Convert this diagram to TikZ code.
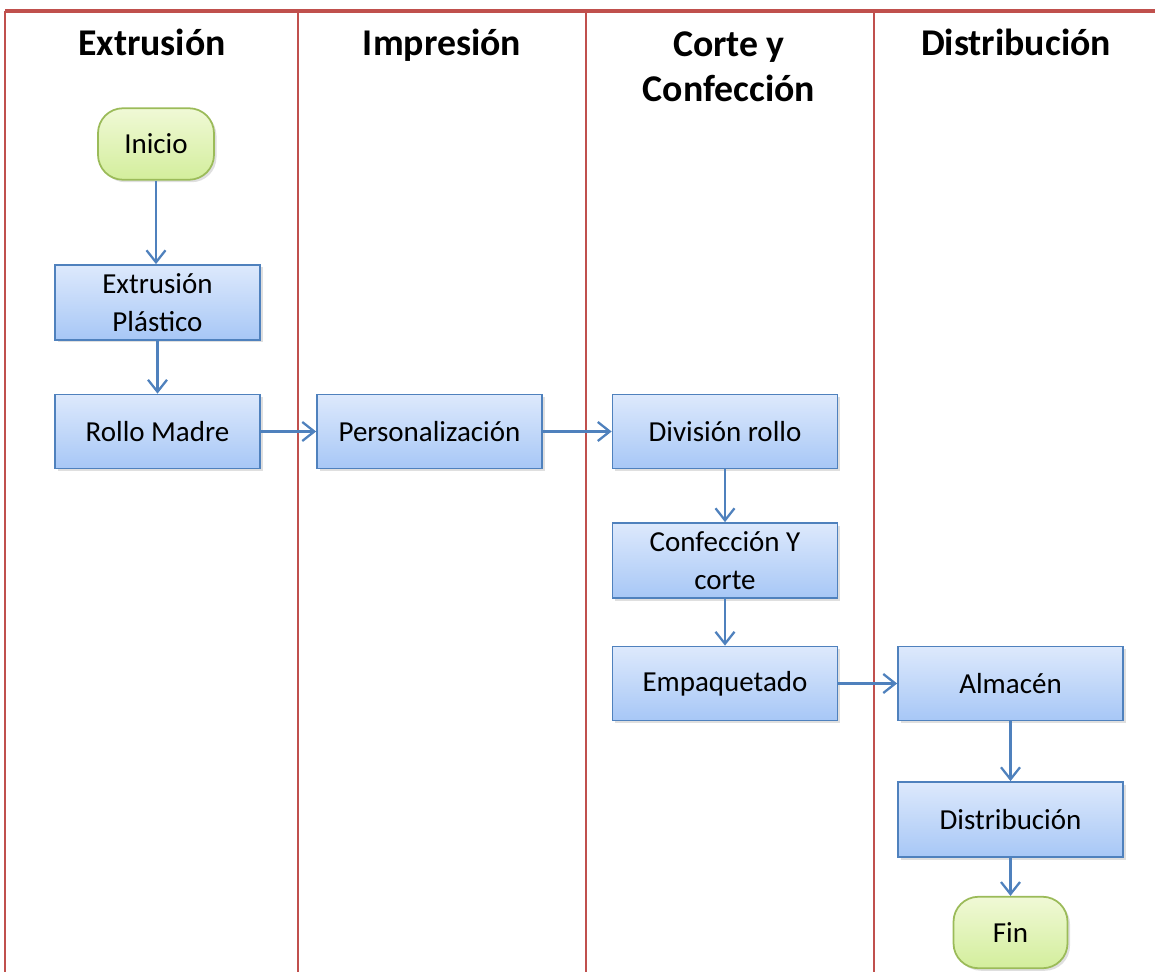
\documentclass[tikz,border=0pt]{standalone}
\usepackage{fontspec}
\setmainfont{Carlito}
\usetikzlibrary{arrows.meta,
                positioning,
                shadows
            }

\definecolor{laneRed}{HTML}{C0504D}
\definecolor{boxLine}{HTML}{4F81BD}
\definecolor{boxTop}{HTML}{DDE9FC}
\definecolor{boxBottom}{HTML}{A7C7F6}
\definecolor{termLine}{HTML}{9BBB59}
\definecolor{termTop}{HTML}{F0F9D6}
\definecolor{termBottom}{HTML}{D3EE9C}

\tikzset{
    process/.style={draw=boxLine, line width=1pt, top color=boxTop, bottom color=boxBottom,
        minimum width=4.5cm, minimum height=1.48cm, align=center,
        font=\fontsize{16.5}{22}\selectfont,
        drop shadow={shadow xshift=0.05cm, shadow yshift=-0.05cm, opacity=0.25}},
    terminal/.style={process, draw=termLine, top color=termTop, bottom color=termBottom,
        minimum width=2.32cm, minimum height=1.43cm, rounded corners=0.5cm},
    flow/.style={draw=boxLine, line width=1.3pt, -{Straight Barb[length=0.24cm, width=0.38cm]}},
    lane/.style={draw=laneRed, line width=1pt},
    header/.style={font=\fontsize{21.5}{26}\selectfont\bfseries, align=center, anchor=base}
}

\begin{document}
\begin{tikzpicture}
            \useasboundingbox (0, 0) rectangle (23.1, -19.44);
            % lanes
            \draw[lane, line width=1.8pt] (0.1, -0.22) -- (23.1, -0.22);
            \foreach \x in {0.1, 5.96, 11.72, 17.48}
                \draw[lane] (\x, -0.22) -- (\x, -19.44);
            \node[header] (hExt) at (3.04, -1.12) {Extrusión};
            \node[header] (hImp) at (8.84, -1.12) {Impresión};
            \node[header] (hCor) at (14.58, -2.04) {Corte y\\Confección};
            \node[header] (hDis) at (20.32, -1.12) {Distribución};
            % steps
            \node[terminal] (inicio) at (3.12, -2.88) {Inicio};
            \node[process, minimum width=4.1cm, minimum height=1.5cm] (extrusion) at (3.15, -6.05) {Extrusión\\Plástico};
            \node[process, minimum width=4.1cm] (rollo) at (3.15, -8.63) {Rollo Madre};
            \node[process] (personal) at (8.59, -8.63) {Personalización};
            \node[process] (division) at (14.5, -8.63) {División rollo};
            \node[process, minimum height=1.5cm] (confeccion) at (14.5, -11.21) {Confección Y\\corte};
            \node[process] (empaque) at (14.5, -13.67) {Empaquetado};
            \node[process] (almacen) at (20.21, -13.67) {Almacén};
            \node[process, minimum height=1.5cm] (distrib) at (20.21, -16.39) {Distribución};
            \node[terminal, minimum width=2.28cm] (fin) at (20.21, -18.65) {Fin};
            % flow
            \draw[flow] (inicio.south) -- (inicio.south |- extrusion.north);
            \draw[flow] (extrusion) -- (rollo);
            \draw[flow] (rollo) -- (personal);
            \draw[flow] (personal) -- (division);
            \draw[flow] (division) -- (confeccion);
            \draw[flow] (confeccion) -- (empaque);
            \draw[flow] (empaque) -- (almacen);
            \draw[flow] (almacen) -- (distrib);
            \draw[flow] (distrib) -- (fin);
        \end{tikzpicture}
\end{document}
